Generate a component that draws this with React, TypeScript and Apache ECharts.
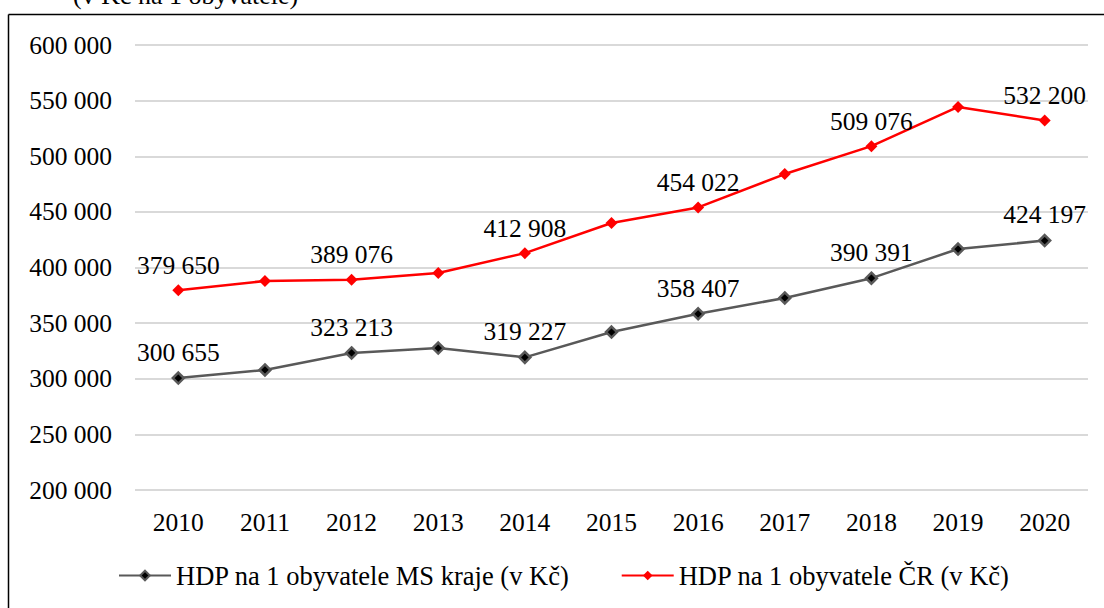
import React, { useEffect, useRef } from "react";
import * as echarts from "echarts";

const years = ["2010", "2011", "2012", "2013", "2014", "2015", "2016", "2017", "2018", "2019", "2020"];
const msKraj = [300655, 307900, 323213, 327600, 319227, 342000, 358407, 372600, 390391, 416600, 424197];
const cr = [379650, 387900, 389076, 395000, 412908, 440000, 454022, 484000, 509076, 544300, 532200];
const labelledIdx = [0, 2, 4, 6, 8, 10];
const msName = "HDP na 1 obyvatele MS kraje (v Kč)";
const crName = "HDP na 1 obyvatele ČR (v Kč)";
const titleText = "(v Kč na 1 obyvatele)";

const FONT = "Liberation Serif";

const fmt = (v: number) => String(Math.round(v)).replace(/\B(?=(\d{3})+(?!\d))/g, " ");

export default function App() {
  const ref = useRef<HTMLDivElement>(null);
  useEffect(() => {
    if (!ref.current) return;
    const chart = echarts.init(ref.current, null, { renderer: "svg" });
    const mkData = (arr: number[]) =>
      arr.map((v, i) => ({
        value: v,
        label: { show: labelledIdx.includes(i) },
      }));
    const labelStyle = {
      position: "top" as const,
      distance: 6,
      fontFamily: FONT,
      fontSize: 25.5,
      color: "#000",
      formatter: (p: any) => fmt(p.value),
    };
    chart.setOption({
      animation: false,
      backgroundColor: "#fff",
      textStyle: { fontFamily: FONT },
      graphic: [
        {
          type: "text",
          left: 73,
          top: -18,
          style: { text: titleText, fontFamily: FONT, fontSize: 26, fill: "#000" },
        },
        {
          type: "line",
          shape: { x1: 8.5, y1: 14.5, x2: 1104, y2: 14.5 },
          style: { stroke: "#000", lineWidth: 1.5 },
        },
        {
          type: "line",
          shape: { x1: 8.5, y1: 14.5, x2: 8.5, y2: 608 },
          style: { stroke: "#000", lineWidth: 1.5 },
        },
      ],
      grid: { left: 135, right: 16, top: 45, bottom: 118 },
      legend: {
        bottom: 14,
        left: 113,
        itemWidth: 52,
        itemHeight: 12,
        itemGap: 51,
        textStyle: { fontFamily: FONT, fontSize: 26.5, color: "#000" },
        data: [msName, crName],
      },
      xAxis: {
        type: "category",
        data: years,
        boundaryGap: true,
        axisLine: { show: false },
        axisTick: { show: false },
        axisLabel: { fontFamily: FONT, fontSize: 25.5, color: "#000", margin: 19 },
      },
      yAxis: {
        type: "value",
        min: 200000,
        max: 600000,
        interval: 50000,
        axisLine: { show: false },
        axisTick: { show: false },
        splitLine: { lineStyle: { color: "#d9d9d9", width: 2 } },
        axisLabel: {
          fontFamily: FONT,
          fontSize: 25.5,
          color: "#000",
          margin: 23,
          formatter: (v: number) => fmt(v),
        },
      },
      series: [
        {
          name: msName,
          type: "line",
          data: mkData(msKraj),
          symbol: "diamond",
          symbolSize: 11,
          lineStyle: { color: "#595959", width: 2.5 },
          itemStyle: { color: "#000", borderColor: "#595959", borderWidth: 2.5 },
          label: labelStyle,
        },
        {
          name: crName,
          type: "line",
          data: mkData(cr),
          symbol: "diamond",
          symbolSize: 12,
          lineStyle: { color: "#ff0000", width: 2.5 },
          itemStyle: { color: "#ff0000", borderColor: "#ff0000", borderWidth: 0 },
          label: labelStyle,
        },
      ],
    });
    return () => chart.dispose();
  }, []);
  return (
    <div
      ref={ref}
      style={{ position: "absolute", left: 0, top: 0, width: 1104, height: 608 }}
    />
  );
}
